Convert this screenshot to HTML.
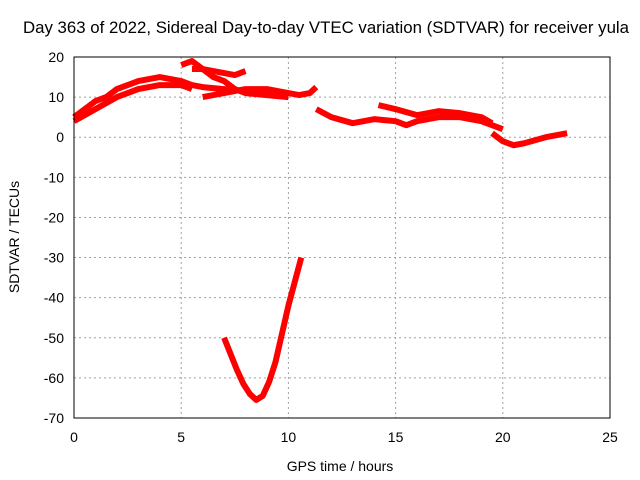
<!DOCTYPE html>
<html><head><meta charset="utf-8"><style>
body{margin:0;background:#fff}
svg{display:block;font-family:"Liberation Sans",sans-serif;font-size:14px}
</style></head><body>
<svg id="chart" width="640" height="480">
<text x="326" y="33" text-anchor="middle" textLength="606" lengthAdjust="spacingAndGlyphs" style="font-size:16.5px">Day 363 of 2022, Sidereal Day-to-day VTEC variation (SDTVAR) for receiver yula</text>
<text x="340" y="471" text-anchor="middle">GPS time / hours</text>
<text transform="translate(19,237) rotate(-90)" text-anchor="middle">SDTVAR / TECUs</text>
<g id="grid"></g><g id="ticks"></g><g id="series"></g>
<rect x="74" y="57" width="536" height="361" fill="none" stroke="#000"/>
</svg>
<script>
const xTicks=[0,5,10,15,20,25];
const yTicks=[20,10,0,-10,-20,-30,-40,-50,-60,-70];
const trackA=[[0,5],[0.5,7],[1,9],[1.5,10],[2,12],[2.5,13],[3,14],[3.5,14.5],[4,15],[4.5,14.5],[5,14],[5.5,13],[6,12.5],[7,12],[8,11.5],[9,11],[10,11],[10.5,10.5],[11,11],[11.3,12.5]];
const trackA2=[[0,4],[1,7],[2,10],[3,12],[4,13],[5,13],[5.5,12]];
const trackB=[[5,18],[5.5,19],[6,17],[6.5,15],[7,14],[7.5,12],[8,11],[9,10.5],[10,10]];
const trackC=[[5.5,17],[6,17],[7,16],[7.5,15.5],[8,16.5]];
const trackD=[[6,10],[7,11],[8,12],[9,12],[10,11]];
const trackE=[[11.3,7],[12,5],[13,3.5],[14,4.5],[15,4],[15.5,3],[16,4],[17,5],[18,5],[19,4],[20,2]];
const trackF=[[14.2,8],[15,7],[16,5.5],[17,6.5],[18,6],[19,5],[19.5,3.5]];
const trackG=[[19.5,1],[20,-1],[20.5,-2],[21,-1.5],[22,0],[23,1]];
const trackH=[[7,-50],[7.3,-54],[7.6,-58],[7.9,-61.5],[8.2,-64],[8.5,-65.5],[8.8,-64.5],[9.1,-61],[9.4,-56],[9.7,-49],[10,-42],[10.3,-36],[10.6,-30]];
const X=v=>74+v*536/25, Y=v=>57+(20-v)*361/90;
const NS="http://www.w3.org/2000/svg";
const g=document.getElementById('grid'),t=document.getElementById('ticks'),s=document.getElementById('series');
function mk(tag,attrs,parent){const e=document.createElementNS(NS,tag);for(const k in attrs)e.setAttribute(k,attrs[k]);parent.appendChild(e);return e;}
xTicks.forEach(v=>{
 const l=mk('line',{x1:X(v),x2:X(v),y1:57,y2:418,stroke:'#a0a0a0','stroke-dasharray':'2,3'},g);
 
 
 const tx=mk('text',{x:X(v),y:442,'text-anchor':'middle'},t);tx.textContent=v;
 
 
});
yTicks.forEach(v=>{
 const l=mk('line',{x1:74,x2:610,y1:Y(v),y2:Y(v),stroke:'#a0a0a0','stroke-dasharray':'2,3'},g);
 
 
 const tx=mk('text',{x:64,y:Y(v)+5,'text-anchor':'end'},t);tx.textContent=v;
 
 
});
[trackA,trackA2,trackB,trackC,trackD,trackE,trackF,trackG,trackH].forEach(tr=>{
 const p=mk('polyline',{points:tr.map(d=>X(d[0])+','+Y(d[1])).join(' '),fill:'none',stroke:'#f00','stroke-width':6,'stroke-linejoin':'round'},s);
 
 
});
</script>
</body></html>
